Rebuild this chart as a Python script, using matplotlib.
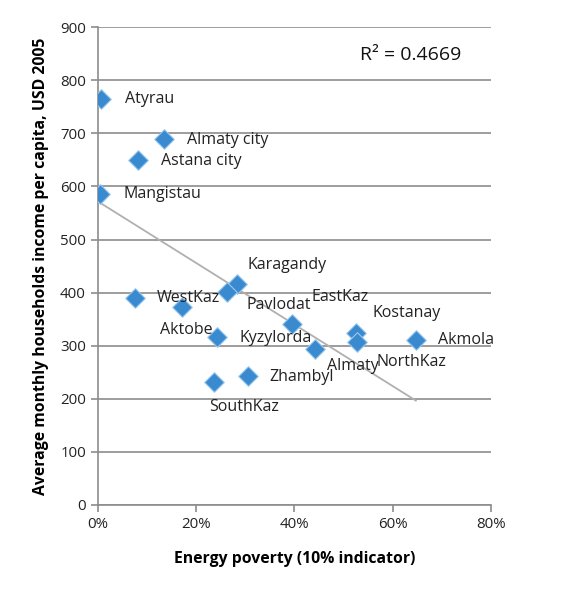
import numpy as np
import matplotlib
matplotlib.use("Agg")
import matplotlib.pyplot as plt
from matplotlib.ticker import FuncFormatter, MultipleLocator

regions = ["Atyrau", "Almaty city", "Astana city", "Mangistau", "WestKaz", "Aktobe",
           "Karagandy", "Pavlodat", "EastKaz", "Kyzylorda", "Almaty", "Zhambyl",
           "SouthKaz", "Kostanay", "NorthKaz", "Akmola"]
energy_poverty = [0.006, 0.134, 0.081, 0.004, 0.075, 0.171,
                  0.283, 0.263, 0.395, 0.242, 0.442, 0.305,
                  0.236, 0.525, 0.527, 0.647]
income = [764, 689, 650, 586, 390, 373,
          416, 401, 341, 316, 294, 243,
          232, 324, 307, 311]
r2_text = "R\u00b2 = 0.4669"

# label offsets in pixels (dx, dy) relative to the marker
label_offsets = {
    "Atyrau": (24, 0), "Almaty city": (23, -1), "Astana city": (23, -1),
    "Mangistau": (24, 0), "WestKaz": (22, 0), "Aktobe": (31, -23),
    "Karagandy": (11, 19), "Pavlodat": (19, -13), "EastKaz": (20, 27),
    "Kyzylorda": (23, -1), "Almaty": (12, -17), "Zhambyl": (22, -1),
    "SouthKaz": (-5, -25), "Kostanay": (17, 20), "NorthKaz": (20, -20),
    "Akmola": (22, 0),
}
label_ha = {"Aktobe": "right", "SouthKaz": "left"}

plt.rcParams['font.family'] = ['Open Sans', 'DejaVu Sans']

fig = plt.figure(figsize=(5.75, 5.92), dpi=100)
ax = fig.add_axes([0.170, 0.147, 0.684, 0.807])

ax.set_xlim(0, 0.8)
ax.set_ylim(0, 900)
ax.yaxis.set_major_locator(MultipleLocator(100))
ax.xaxis.set_major_locator(MultipleLocator(0.2))
ax.xaxis.set_major_formatter(FuncFormatter(lambda v, p: f"{v*100:.0f}%"))
ax.grid(axis='y', color='#8c8c8c', linewidth=1.2)
ax.set_axisbelow(True)
for s in ['top', 'right']:
    ax.spines[s].set_visible(False)
for s in ['left', 'bottom']:
    ax.spines[s].set_color('#8c8c8c')
    ax.spines[s].set_linewidth(1.2)
ax.tick_params(axis='both', colors='#8c8c8c', labelcolor='#222222', labelsize=10.8, length=5, width=1.2)

x = np.array(energy_poverty)
y = np.array(income)
coef = np.polyfit(x, y, 1)
xs = np.array([x.min(), x.max()])
ax.plot(xs, np.polyval(coef, xs), color='#b0b0b0', linewidth=1.3, zorder=2)

ax.scatter(x, y, marker='D', s=100, color='#3a8ad0', edgecolors='#9cc8ee', linewidths=0.8, zorder=3)

for name, xi, yi in zip(regions, x, y):
    dx, dy = label_offsets[name]
    ax.annotate(name, (xi, yi), xytext=(dx, dy), textcoords='offset pixels',
                ha=label_ha.get(name, 'left'), va='center', fontsize=11.5, color='#222222', zorder=4)

ax.text(0.667, 0.941, r2_text, transform=ax.transAxes, fontsize=14, color='#111111', va='center')

ax.set_xlabel("Energy poverty (10% indicator)", fontsize=11.3, fontweight='bold', labelpad=14)
ax.set_ylabel("Average monthly households income per capita, USD 2005", fontsize=11.3,
              fontweight='bold', labelpad=8)

fig.savefig("out.png", dpi=100, facecolor='white')
